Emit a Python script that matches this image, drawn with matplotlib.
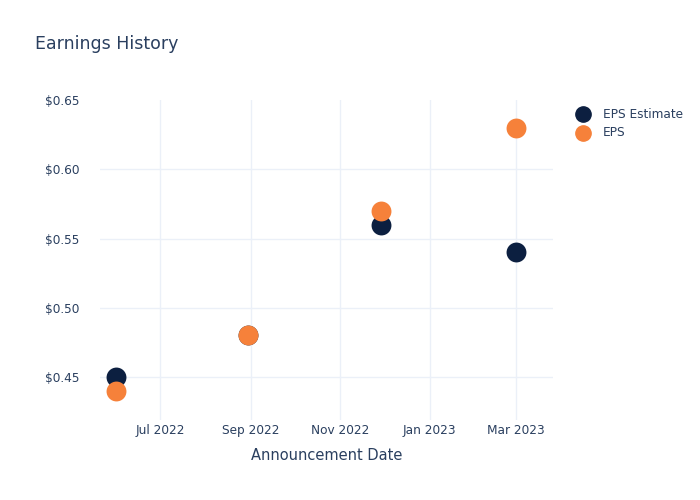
import datetime as dt
import matplotlib
matplotlib.use("Agg")
import matplotlib.pyplot as plt
import matplotlib.dates as mdates
from matplotlib.ticker import FuncFormatter

# Datos
fechas = [dt.date(2022, 6, 1), dt.date(2022, 8, 30), dt.date(2022, 11, 29), dt.date(2023, 3, 1)]
eps_estimate = [0.45, 0.48, 0.56, 0.54]
eps_real = [0.44, 0.48, 0.57, 0.63]
series = ["EPS Estimate", "EPS"]
colores = ["#0c1f40", "#f6813a"]
ticks_x = [dt.date(2022, 7, 1), dt.date(2022, 9, 1), dt.date(2022, 11, 1),
           dt.date(2023, 1, 1), dt.date(2023, 3, 1)]
ticks_y = [0.45, 0.50, 0.55, 0.60, 0.65]

texto = "#2a3f5f"
grilla = "#ebf0f8"

fig = plt.figure(figsize=(7, 5), dpi=100)
ax = fig.add_axes([100 / 700, 1 - 420 / 500, 453 / 700, 320 / 500])

ax.scatter(fechas, eps_estimate, s=205, color=colores[0], zorder=3, linewidths=0)
ax.scatter(fechas, eps_real, s=205, color=colores[1], zorder=4, linewidths=0)

ax.set_xlim(dt.date(2022, 5, 21), dt.date(2023, 3, 26))
ax.set_ylim(0.4188, 0.6502)
ax.set_xticks(ticks_x)
ax.xaxis.set_major_formatter(mdates.DateFormatter("%b %Y"))
ax.set_yticks(ticks_y)
ax.yaxis.set_major_formatter(FuncFormatter(lambda v, p: f"${v:.2f}"))

ax.grid(True, color=grilla, linewidth=1, zorder=0)
ax.set_axisbelow(True)
# la linea de $0.65 queda en el borde y no se ve en el original
ax.yaxis.get_gridlines()[-1].set_visible(False)
for s in ax.spines.values():
    s.set_visible(False)
ax.tick_params(length=0, colors=texto, labelsize=8.7)
ax.tick_params(axis="x", pad=3)
ax.tick_params(axis="y", pad=15)

ax.set_xlabel("Announcement Date", color=texto, fontsize=10.5, labelpad=8)

fig.text(35 / 700, 1 - 44 / 500, "Earnings History", color=texto, fontsize=12.5, va="center")

# Leyenda a mano, como en plotly
for i, (nombre, c) in enumerate(zip(series, colores)):
    y = 1 - (114 + i * 19) / 500
    fig.lines.append(plt.Line2D([583 / 700], [y], marker="o", markersize=11, color=c,
                                linestyle="", transform=fig.transFigure))
    fig.text(603 / 700, y, nombre, color=texto, fontsize=8.7, va="center")

fig.savefig("out.png", dpi=100)
